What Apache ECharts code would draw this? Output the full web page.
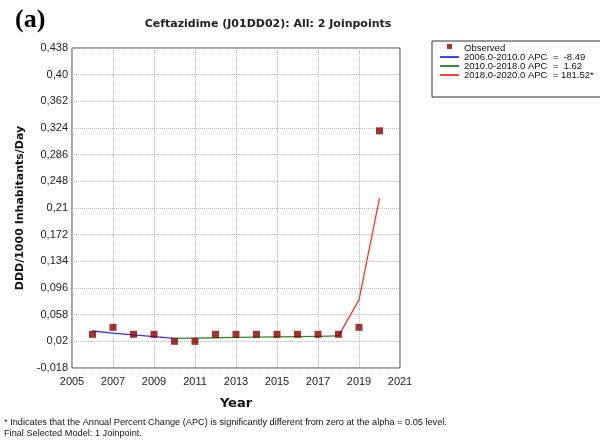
<!DOCTYPE html>
<html>
<head>
<meta charset="utf-8">
<script src="https://cdn.jsdelivr.net/npm/echarts@6/dist/echarts.min.js"></script>
<style>html,body{margin:0;padding:0;background:#fff}#c{width:600px;height:440px}</style>
</head>
<body>
<div id="c"></div>
<script>
const years = [2006, 2007, 2008, 2009, 2010, 2011, 2012, 2013, 2014, 2015, 2016, 2017, 2018, 2019, 2020];
const observed = [0.030, 0.040, 0.030, 0.030, 0.020, 0.020, 0.030, 0.030, 0.030, 0.030, 0.030, 0.030, 0.030, 0.040, 0.320];
const seg1Years = [2006, 2007, 2008, 2009, 2010];
const seg1Fit = [0.0347, 0.0318, 0.0291, 0.0266, 0.0243];
const seg2Years = [2010, 2011, 2012, 2013, 2014, 2015, 2016, 2017, 2018];
const seg2Fit = [0.0243, 0.0247, 0.0251, 0.0255, 0.0259, 0.0263, 0.0268, 0.0272, 0.0277];
const seg3Years = [2018, 2019, 2020];
const seg3Fit = [0.0277, 0.079, 0.224];
const seriesNames = ['Observed', '2006.0-2010.0 APC  =  -8.49', '2010.0-2018.0 APC  =  1.62', '2018.0-2020.0 APC  = 181.52*'];
const yTickLabels = ['-0,018', '0,02', '0,058', '0,096', '0,134', '0,172', '0,21', '0,248', '0,286', '0,324', '0,362', '0,40', '0,438'];
const xTickLabels = ['2005', '2007', '2009', '2011', '2013', '2015', '2017', '2019', '2021'];

const yMin = -0.018, yStep = 0.038;
const pair = (xs, ys) => xs.map((x, i) => [x, ys[i]]);
const lineIcon = 'path://M0,0M19,8M0,3.1h19v1.9h-19z';

const chart = echarts.init(document.getElementById('c'), null, {renderer: 'canvas'});
chart.setOption({
  animation: false,
  backgroundColor: '#fff',
  title: {
    text: 'Ceftazidime (J01DD02): All: 2 Joinpoints',
    left: 263, top: 14, textAlign: 'center',
    textStyle: {fontFamily: 'DejaVu Sans', fontWeight: 'bold', fontSize: 11, color: '#222'}
  },
  graphic: [
    {type: 'text', left: 15, top: 7, style: {text: '(a)', font: 'bold 26px "Liberation Serif"', fill: '#000'}},
    {type: 'text', left: 4, top: 418, style: {text: '* Indicates that the Annual Percent Change (APC) is significantly different from zero at the alpha = 0.05 level.', font: '9.2px "Liberation Sans"', fill: '#111'}},
    {type: 'text', left: 4, top: 429, style: {text: 'Final Selected Model: 1 Joinpoint.', font: '9.2px "Liberation Sans"', fill: '#111'}}
  ],
  legend: {
    left: 432, top: 41, orient: 'vertical',
    borderColor: '#333', borderWidth: 1, padding: [2, 8, 17, 8],
    itemGap: -1, itemWidth: 19, itemHeight: 8,
    textStyle: {fontFamily: 'Liberation Sans', fontSize: 9.5, color: '#111'},
    data: [
      {name: seriesNames[0], icon: 'path://M0,0M19,8M7,0h5v5h-5z'},
      {name: seriesNames[1], icon: lineIcon},
      {name: seriesNames[2], icon: lineIcon},
      {name: seriesNames[3], icon: lineIcon}
    ]
  },
  grid: {left: 72, top: 48, right: 200, bottom: 72, show: true, borderColor: '#444', borderWidth: 1},
  xAxis: {
    type: 'value', min: 2005, max: 2021, interval: 2,
    name: 'Year', nameLocation: 'middle', nameGap: 29,
    nameTextStyle: {fontFamily: 'DejaVu Sans', fontWeight: 'bold', fontSize: 13, color: '#111'},
    axisLine: {show: false}, axisTick: {show: false},
    axisLabel: {fontFamily: 'Liberation Sans', fontSize: 11, color: '#222', margin: 8,
      formatter: v => { const i = Math.round((v - 2005) / 2); return xTickLabels[i] !== undefined ? xTickLabels[i] : ''; }},
    splitLine: {show: true, lineStyle: {color: '#bbb', type: 'dotted'}}
  },
  yAxis: {
    type: 'value', min: yMin, max: 0.438, interval: yStep,
    name: 'DDD/1000 Inhabitants/Day', nameLocation: 'middle', nameGap: 43, nameRotate: 90,
    nameTextStyle: {fontFamily: 'DejaVu Sans', fontWeight: 'bold', fontSize: 11, color: '#111'},
    axisLine: {show: false}, axisTick: {show: false},
    axisLabel: {fontFamily: 'Liberation Sans', fontSize: 11, color: '#222', margin: 4,
      formatter: v => { const i = Math.round((v - yMin) / yStep); return yTickLabels[i] !== undefined ? yTickLabels[i] : ''; }},
    splitLine: {show: true, lineStyle: {color: '#bbb', type: 'dotted'}}
  },
  series: [
    {name: seriesNames[1], type: 'line', data: pair(seg1Years, seg1Fit), showSymbol: false, symbol: 'none',
      lineStyle: {color: '#3333ff', width: 1.3}, itemStyle: {color: '#3333ff'}, z: 2},
    {name: seriesNames[2], type: 'line', data: pair(seg2Years, seg2Fit), showSymbol: false, symbol: 'none',
      lineStyle: {color: '#2a8a2a', width: 1.3}, itemStyle: {color: '#2a8a2a'}, z: 2},
    {name: seriesNames[3], type: 'line', data: pair(seg3Years, seg3Fit), showSymbol: false, symbol: 'none',
      lineStyle: {color: '#ff3333', width: 1.3}, itemStyle: {color: '#ff3333'}, z: 2},
    {name: seriesNames[0], type: 'scatter', data: pair(years, observed), symbol: 'rect', symbolSize: 7,
      itemStyle: {color: '#8b0000'}, z: 3}
  ]
});
</script>
</body>
</html>
